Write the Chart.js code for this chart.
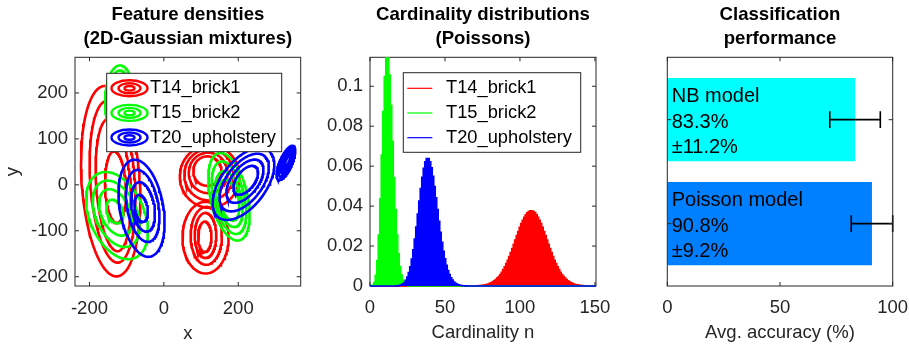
<!DOCTYPE html>
<html>
<head>
<meta charset="utf-8">
<script src="https://cdn.jsdelivr.net/npm/chart.js@4.4.1/dist/chart.umd.min.js"></script>
<style>
  html, body { margin: 0; padding: 0; background: #fff; }
  #wrap { position: relative; width: 909px; height: 346px; overflow: hidden; }
  #wrap canvas { position: absolute; top: 0; }
</style>
</head>
<body>
<div id="wrap">
  <canvas id="dens" width="310" height="346" style="left:0"></canvas>
  <canvas id="card" width="300" height="346" style="left:310px"></canvas>
  <canvas id="perf" width="299" height="346" style="left:610px"></canvas>
</div>
<script>
// ---- data ----
const seriesNames = ['T14_brick1', 'T15_brick2', 'T20_upholstery'];
const seriesColors = ['#ff0000', '#00ff00', '#0000ff'];

// contour rings: [centre x, centre y, semi-axis a, semi-axis b, tilt of a (deg)]
const brick1Rings = [
  [-143, 8, 208, 78, 95], [-138, 7, 177, 60, 95], [-136, 0, 145, 46, 95], [-130, -5, 78, 28, 93],
  [123, 18, 80, 68, 0], [121, 22, 66, 56, 0], [119, 26, 52, 44, 0], [117, 30, 38, 32, 0],
  [112, -115, 62, 78, 0], [114, -111, 42, 63, 0], [112, -110, 29, 49, 0], [110, -113, 18, 33, 0]
];
const brick2Rings = [
  [-126, -67, 105, 70, -55], [-128, -63, 80, 53, -55], [-130, -60, 56, 37, -55], [-132, -58, 28, 20, -55],
  [-118, 180, 40, 80, 0], [-118, 178, 33, 71, 0], [-118, 176, 25, 60, 0],
  [175, -26, 99, 49, 108], [175, -28, 82, 41, 108], [175, -31, 63, 33, 108], [175, -33, 46, 25, 108]
];
const upholsteryRings = [
  [-60, -51, 108, 58, 104], [-57, -46, 80, 42, 104], [-56, -48, 55, 30, 104], [-61, -51, 30, 17, 104],
  [214, 2, 100, 55, 42], [216, 5, 80, 44, 42], [218, 8, 60, 33, 42], [220, 10, 40, 22, 42],
  [328, 48, 42, 16, 60], [329, 49, 35, 13, 60], [330, 50, 28, 10, 60], [331, 51, 21, 7, 60], [332, 52, 14, 5, 60]
];
const densXTicks = [-200, 0, 200];
const densYTicks = [-200, -100, 0, 100, 200];

// cardinality pmf, one value per n starting at *Start
const brick1Start = 72;
const brick1P = [
  0.00014, 0.00019, 0.00025, 0.00034, 0.00045, 0.00059, 0.00077, 0.00100, 0.00129, 0.00164,
  0.00207, 0.00259, 0.00321, 0.00394, 0.00479, 0.00578, 0.00691, 0.00818, 0.00961, 0.01118,
  0.01290, 0.01475, 0.01671, 0.01877, 0.02089, 0.02305, 0.02520, 0.02731, 0.02933, 0.03122,
  0.03294, 0.03444, 0.03569, 0.03666, 0.03732, 0.03766, 0.03766, 0.03732, 0.03666, 0.03569,
  0.03444, 0.03294, 0.03122, 0.02933, 0.02731, 0.02520, 0.02305, 0.02089, 0.01877, 0.01671,
  0.01475, 0.01290, 0.01118, 0.00961, 0.00818, 0.00691, 0.00578, 0.00479, 0.00394, 0.00321,
  0.00259, 0.00207, 0.00164, 0.00129, 0.00100, 0.00077, 0.00059, 0.00045, 0.00034, 0.00025,
  0.00019, 0.00014
];
const brick2Start = 0;
const brick2P = [
  0.000006, 0.00007, 0.00044, 0.00177, 0.00531, 0.01274, 0.02548, 0.04368, 0.06552, 0.08736,
  0.10484, 0.11437, 0.11437, 0.10557, 0.09049, 0.07239, 0.05429, 0.03832, 0.02555, 0.01614,
  0.00968, 0.00553, 0.00302, 0.00157, 0.00079, 0.00038, 0.00017, 0.00008, 0.00003
];
const upholsteryStart = 18;
const upholsteryP = [
  0.00008, 0.00016, 0.00031, 0.00058, 0.00104, 0.00176, 0.00285, 0.00445, 0.00668, 0.00965,
  0.01344, 0.01807, 0.02349, 0.02955, 0.03601, 0.04256, 0.04882, 0.05440, 0.05893, 0.06212,
  0.06375, 0.06375, 0.06216, 0.05913, 0.05490, 0.04980, 0.04414, 0.03825, 0.03243, 0.02691,
  0.02186, 0.01740, 0.01357, 0.01038, 0.00778, 0.00573, 0.00414, 0.00293, 0.00204, 0.00140,
  0.00094, 0.00062, 0.00040, 0.00026, 0.00016, 0.00010, 0.00006
];
const cardXTicks = [0, 50, 100, 150];
const cardYTicks = [0, 0.02, 0.04, 0.06, 0.08, 0.1];
const cardYLabels = ['0', '0.02', '0.04', '0.06', '0.08', '0.1'];

const models = ['NB model', 'Poisson model'];
const modelColors = ['#00ffff', '#0080ff'];
const accuracy = [83.3, 90.8];
const accuracyStd = [11.2, 9.2];
const perfXTicks = [0, 50, 100];
const perfYTicks = [1, 2];

// ---- helpers ----
Chart.defaults.animation = false;
Chart.defaults.font.family = '"Liberation Sans", Arial, sans-serif';
Chart.defaults.font.size = 18.5;
Chart.defaults.color = '#262626';

const FONT = '"Liberation Sans", Arial, sans-serif';

function ringPoints(r) {
  const [cx, cy, a, b, deg] = r;
  const th = deg * Math.PI / 180;
  const pts = [];
  for (let i = 0; i <= 120; i++) {
    const t = i / 120 * 2 * Math.PI;
    pts.push({
      x: cx + a * Math.cos(t) * Math.cos(th) - b * Math.sin(t) * Math.sin(th),
      y: cy + a * Math.cos(t) * Math.sin(th) + b * Math.sin(t) * Math.cos(th)
    });
  }
  return pts;
}

function pmfPoints(start, vals) {
  const pts = [];
  if (start > 0) pts.push({ x: -2, y: 0 }, { x: start - 1, y: 0 });
  vals.forEach((v, i) => pts.push({ x: start + i, y: v }));
  pts.push({ x: start + vals.length, y: 0 });
  pts.push({ x: 155, y: 0 });
  return pts;
}

function fixedTicks(list) {
  return s => { s.ticks = list.map(v => ({ value: v })); };
}

// box + inward tick marks on all four sides (matlab style)
function drawBox(chart, opts) {
  const { ctx, chartArea: a, scales } = chart;
  const len = 4;
  ctx.save();
  ctx.strokeStyle = '#262626';
  ctx.lineWidth = 1;
  ctx.beginPath();
  (opts.xTicks || []).forEach(v => {
    const px = scales.x.getPixelForValue(v);
    ctx.moveTo(px, a.bottom); ctx.lineTo(px, a.bottom - len);
    ctx.moveTo(px, a.top); ctx.lineTo(px, a.top + len);
  });
  (opts.yTicks || []).forEach(v => {
    const py = scales.y.getPixelForValue(v);
    ctx.moveTo(a.left, py); ctx.lineTo(a.left + len, py);
    ctx.moveTo(a.right, py); ctx.lineTo(a.right - len, py);
  });
  ctx.stroke();
  ctx.strokeRect(a.left, a.top, a.right - a.left, a.bottom - a.top);
  ctx.restore();
}

const axesBox = {
  id: 'axesBox',
  beforeDatasetsDraw(chart, args, opts) { if (opts.under) drawBox(chart, opts); },
  afterDraw(chart, args, opts) { if (!opts.under) drawBox(chart, opts); }
};

const panelTitle = {
  id: 'panelTitle',
  afterDraw(chart, args, opts) {
    const { ctx, chartArea: a } = chart;
    ctx.save();
    ctx.fillStyle = '#000';
    ctx.font = 'bold 18.6px ' + FONT;
    ctx.textAlign = 'center';
    ctx.textBaseline = 'middle';
    opts.lines.forEach((t, i) => ctx.fillText(t, (a.left + a.right) / 2, 15 + i * 24.3));
    ctx.restore();
  }
};

const densLegend = {
  id: 'densLegend',
  afterDraw(chart) {
    const { ctx, chartArea: a } = chart;
    const x0 = a.left + 31.7, y0 = a.top + 16, w = 175, h = 78.4;
    ctx.save();
    ctx.fillStyle = '#fff';
    ctx.fillRect(x0, y0, w, h);
    ctx.strokeStyle = '#262626';
    ctx.lineWidth = 1;
    ctx.strokeRect(x0, y0, w, h);
    ctx.font = '18.3px ' + FONT;
    ctx.textBaseline = 'middle';
    seriesNames.forEach((name, i) => {
      const cy = y0 + 15 + i * 24.6;
      ctx.strokeStyle = seriesColors[i];
      ctx.lineWidth = 2.4;
      [[18, 8], [11, 5], [5, 2.3]].forEach(([rx, ry]) => {
        ctx.beginPath();
        ctx.ellipse(x0 + 22.8, cy, rx, ry, 0, 0, 2 * Math.PI);
        ctx.stroke();
      });
      ctx.fillStyle = '#000';
      ctx.fillText(name, x0 + 43.3, cy);
    });
    ctx.restore();
  }
};

const cardLegend = {
  id: 'cardLegend',
  afterDraw(chart) {
    const { ctx, chartArea: a } = chart;
    const x0 = a.left + 33.3, y0 = a.top + 15.4, w = 177.4, h = 79.6;
    ctx.save();
    ctx.fillStyle = '#fff';
    ctx.fillRect(x0, y0, w, h);
    ctx.strokeStyle = '#262626';
    ctx.lineWidth = 1;
    ctx.strokeRect(x0, y0, w, h);
    ctx.font = '18.3px ' + FONT;
    ctx.textBaseline = 'middle';
    seriesNames.forEach((name, i) => {
      const cy = y0 + 15.6 + i * 24.7;
      ctx.strokeStyle = seriesColors[i];
      ctx.lineWidth = 1.2;
      ctx.beginPath();
      ctx.moveTo(x0 + 4, cy);
      ctx.lineTo(x0 + 29, cy);
      ctx.stroke();
      ctx.fillStyle = '#000';
      ctx.fillText(name, x0 + 42.7, cy);
    });
    ctx.restore();
  }
};

const barNotes = {
  id: 'barNotes',
  afterDatasetsDraw(chart) {
    const { ctx, scales: { x } } = chart;
    const bars = chart.getDatasetMeta(0).data;
    ctx.save();
    bars.forEach((bar, i) => {
      const y = bar.y;
      const lo = x.getPixelForValue(accuracy[i] - accuracyStd[i]);
      const hi = x.getPixelForValue(accuracy[i] + accuracyStd[i]);
      ctx.strokeStyle = '#000';
      ctx.lineWidth = 1.6;
      ctx.beginPath();
      ctx.moveTo(lo, y); ctx.lineTo(hi, y);
      ctx.moveTo(lo, y - 8.3); ctx.lineTo(lo, y + 8.3);
      ctx.moveTo(hi, y - 8.3); ctx.lineTo(hi, y + 8.3);
      ctx.stroke();

      ctx.fillStyle = '#000';
      ctx.font = '20px ' + FONT;
      ctx.textAlign = 'left';
      ctx.textBaseline = 'middle';
      const lines = [models[i], accuracy[i].toFixed(1) + '%', '\u00b1' + accuracyStd[i].toFixed(1) + '%'];
      lines.forEach((t, k) => ctx.fillText(t, bar.base + 4.4, y - 23.3 + k * 25.8));
    });
    ctx.restore();
  }
};

const noBits = { legend: { display: false }, tooltip: { enabled: false } };

// ---- feature densities ----
const ringSets = [brick1Rings, brick2Rings, upholsteryRings];
const densDatasets = [];
ringSets.forEach((rings, s) => {
  rings.forEach(r => {
    densDatasets.push({
      data: ringPoints(r),
      showLine: true,
      borderColor: seriesColors[s],
      borderWidth: 2.6,
      pointRadius: 0,
      fill: false,
      order: 3 - s,
      clip: 0
    });
  });
});

new Chart(document.getElementById('dens'), {
  type: 'scatter',
  data: { datasets: densDatasets },
  options: {
    responsive: false,
    events: [],
    layout: { padding: { top: 57.3, right: 9.3, left: 0, bottom: 0 } },
    scales: {
      x: {
        type: 'linear', min: -238.9, max: 367.9,
        grid: { display: false, drawTicks: false }, border: { display: false },
        ticks: { padding: 12, maxRotation: 0, autoSkip: false, callback: v => String(v) },
        afterBuildTicks: fixedTicks(densXTicks),
        afterFit: s => { s.height = 60; s.paddingLeft = 0; s.paddingRight = 0; },
        title: { display: true, text: 'x', padding: { top: 0, bottom: 1 } }
      },
      y: {
        type: 'linear', min: -220.2, max: 277.6,
        grid: { display: false, drawTicks: false }, border: { display: false },
        ticks: { padding: 7, autoSkip: false, callback: v => String(v) },
        afterBuildTicks: fixedTicks(densYTicks),
        afterFit: s => { s.width = 75; s.paddingTop = 0; s.paddingBottom = 0; },
        title: { display: true, text: 'y', padding: { top: 2, bottom: 0 } }
      }
    },
    plugins: Object.assign({
      axesBox: { xTicks: densXTicks, yTicks: densYTicks },
      panelTitle: { lines: ['Feature densities', '(2D-Gaussian mixtures)'] }
    }, noBits)
  },
  plugins: [axesBox, panelTitle, densLegend]
});

// ---- cardinality distributions ----
const pmfSets = [[brick1Start, brick1P], [brick2Start, brick2P], [upholsteryStart, upholsteryP]];

new Chart(document.getElementById('card'), {
  type: 'line',
  data: {
    datasets: pmfSets.map(([start, vals], i) => ({
      label: seriesNames[i],
      data: pmfPoints(start, vals),
      borderColor: seriesColors[i],
      backgroundColor: seriesColors[i],
      borderWidth: 1.6,
      stepped: 'middle',
      fill: 'origin',
      pointRadius: 0,
      order: 3 - i,
      clip: { left: 0, top: 0, right: 0, bottom: 2 }
    }))
  },
  options: {
    responsive: false,
    events: [],
    layout: { padding: { top: 57.3, right: 14, left: 0, bottom: 0 } },
    scales: {
      x: {
        type: 'linear', min: 0, max: 150.7,
        grid: { display: false, drawTicks: false }, border: { display: false },
        ticks: { padding: 11, maxRotation: 0, autoSkip: false, callback: v => String(v) },
        afterBuildTicks: fixedTicks(cardXTicks),
        afterFit: s => { s.height = 60; s.paddingLeft = 0; s.paddingRight = 0; },
        title: { display: true, text: 'Cardinality n', padding: { top: 0, bottom: 2 } }
      },
      y: {
        type: 'linear', min: 0, max: 0.1145,
        grid: { display: false, drawTicks: false }, border: { display: false },
        ticks: { padding: 7, autoSkip: false, callback: (v, i) => cardYLabels[i] },
        afterBuildTicks: fixedTicks(cardYTicks),
        afterFit: s => { s.width = 60; s.paddingTop = 0; s.paddingBottom = 0; }
      }
    },
    plugins: Object.assign({
      axesBox: { xTicks: cardXTicks, yTicks: cardYTicks, under: true },
      panelTitle: { lines: ['Cardinality distributions', '(Poissons)'] }
    }, noBits)
  },
  plugins: [axesBox, panelTitle, cardLegend]
});

// ---- classification performance ----
new Chart(document.getElementById('perf'), {
  type: 'bar',
  data: {
    datasets: [{
      data: models.map((m, i) => ({ x: accuracy[i], y: i + 1 })),
      backgroundColor: modelColors,
      borderWidth: 0,
      barPercentage: 0.8,
      categoryPercentage: 1
    }]
  },
  options: {
    responsive: false,
    events: [],
    indexAxis: 'y',
    layout: { padding: { top: 57.3, right: 16.3, left: 0, bottom: 0 } },
    scales: {
      x: {
        type: 'linear', min: 0, max: 100,
        grid: { display: false, drawTicks: false }, border: { display: false },
        ticks: { padding: 11, maxRotation: 0, autoSkip: false, callback: v => String(v) },
        afterBuildTicks: fixedTicks(perfXTicks),
        afterFit: s => { s.height = 60; s.paddingLeft = 0; s.paddingRight = 0; },
        title: { display: true, text: 'Avg. accuracy (%)', padding: { top: 0, bottom: 2 } }
      },
      y: {
        type: 'linear', min: 0.4, max: 2.6, reverse: true, offset: false,
        grid: { display: false, drawTicks: false, offset: false }, border: { display: false },
        ticks: { display: false },
        afterBuildTicks: fixedTicks(perfYTicks),
        afterFit: s => { s.width = 57.3; s.paddingTop = 0; s.paddingBottom = 0; }
      }
    },
    plugins: Object.assign({
      axesBox: { xTicks: perfXTicks, yTicks: perfYTicks },
      panelTitle: { lines: ['Classification', 'performance'] }
    }, noBits)
  },
  plugins: [barNotes, axesBox, panelTitle]
});
</script>
</body>
</html>
